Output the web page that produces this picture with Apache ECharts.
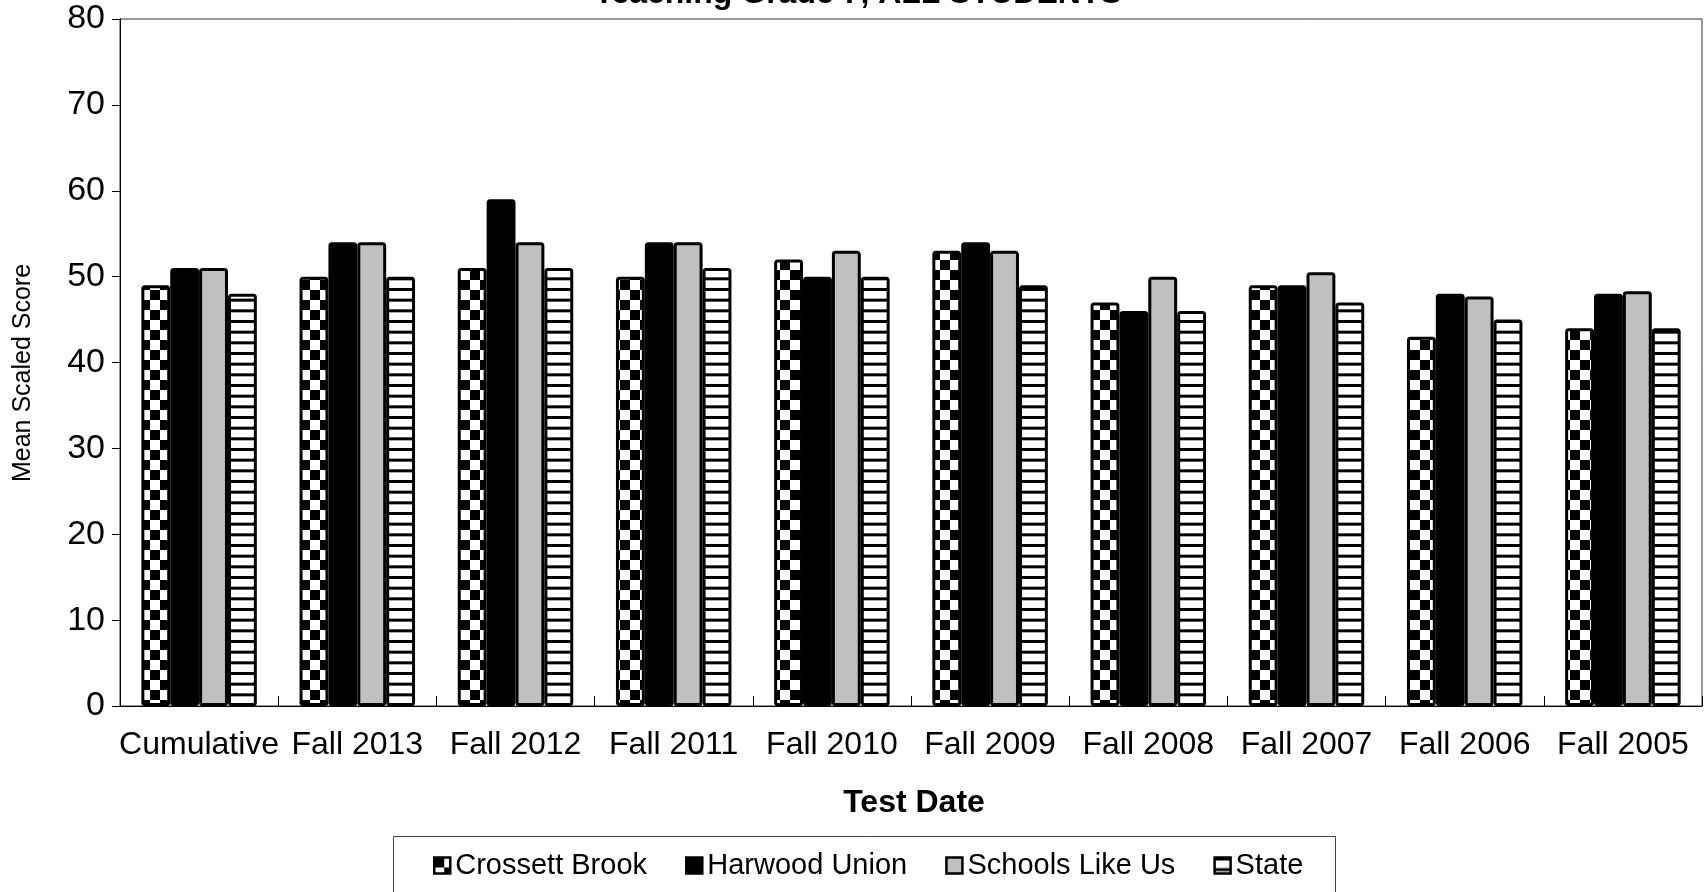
<!DOCTYPE html>
<html>
<head>
<meta charset="utf-8">
<script src="https://cdn.jsdelivr.net/npm/echarts@6/dist/echarts.min.js"></script>
<style>
html,body{margin:0;padding:0;background:#fff;}
#chart{width:1705px;height:892px;}
</style>
</head>
<body>
<div id="chart"></div>
<script>
const categories = ['Cumulative','Fall 2013','Fall 2012','Fall 2011','Fall 2010','Fall 2009','Fall 2008','Fall 2007','Fall 2006','Fall 2005'];
const crossettBrook = [49, 50, 51, 50, 52, 53, 47, 49, 43, 44];
const harwoodUnion  = [51, 54, 59, 54, 50, 54, 46, 49, 48, 48];
const schoolsLikeUs = [51, 54, 54, 54, 53, 53, 50, 50.5, 47.7, 48.3];
const stateAvg      = [48, 50, 51, 51, 50, 49, 46, 47, 45, 44];
const seriesNames = ['Crossett Brook','Harwood Union','Schools Like Us','State'];
const titleText = 'Teaching Grade 7, ALL STUDENTS';
const xAxisTitle = 'Test Date';
const yAxisTitle = 'Mean Scaled Score';

function checkerPattern() {
  const c = document.createElement('canvas');
  c.width = 20; c.height = 20;
  const g = c.getContext('2d');
  g.fillStyle = '#fff'; g.fillRect(0,0,20,20);
  g.fillStyle = '#000';
  g.fillRect(0,0,10,10); g.fillRect(10,10,10,10);
  return {image: c, repeat: 'repeat'};
}
function stripePattern() {
  const c = document.createElement('canvas');
  c.width = 8; c.height = 32;
  const g = c.getContext('2d');
  g.fillStyle = '#fff'; g.fillRect(0,0,8,32);
  g.fillStyle = '#000';
  g.fillRect(0,0,8,3); g.fillRect(0,10.67,8,3); g.fillRect(0,21.33,8,3);
  return {image: c, repeat: 'repeat'};
}

const FONT = '"Liberation Sans", Arial, sans-serif';
const fills = [checkerPattern(), '#000000', '#c0c0c0', stripePattern()];
const values = [crossettBrook, harwoodUnion, schoolsLikeUs, stateAvg];

const chart = echarts.init(document.getElementById('chart'), null, {renderer: 'canvas'});
chart.setOption({
  animation: false,
  backgroundColor: '#fff',
  grid: {left: 120, right: 3, top: 19, bottom: 186, show: true, borderColor: '#333', borderWidth: 1, containLabel: false},
  xAxis: {
    type: 'category',
    data: categories,
    axisLine: {lineStyle: {color: '#000', width: 1}},
    axisTick: {show: true, inside: true, length: 10, lineStyle: {color: '#000'}},
    axisLabel: {color: '#000', fontSize: 32, fontFamily: FONT, margin: 23, interval: 0},
    splitLine: {show: false}
  },
  yAxis: {
    type: 'value', min: 0, max: 80, interval: 10,
    axisLine: {show: true, lineStyle: {color: '#000', width: 1}},
    axisTick: {show: true, length: 8, lineStyle: {color: '#000'}},
    axisLabel: {color: '#000', fontSize: 34, fontFamily: FONT, margin: 15},
    splitLine: {show: false}
  },
  legend: {
    left: 428, top: 846, padding: 5,
    itemWidth: 16, itemHeight: 16, itemGap: 38,
    icon: 'rect',
    data: seriesNames,
    textStyle: {color: '#000', fontSize: 29, fontFamily: FONT},
    itemStyle: {borderColor: '#000', borderWidth: 2.5}
  },
  graphic: [
    {type: 'rect', shape: {x: 393.5, y: 836.5, width: 942, height: 80}, style: {fill: 'none', stroke: '#444', lineWidth: 1}, silent: true, z: -1},
    {type: 'text', x: 858, y: -6, style: {text: titleText, font: 'bold 32px ' + FONT, fill: '#000', align: 'center', verticalAlign: 'middle'}},
    {type: 'text', x: 914, y: 803, style: {text: xAxisTitle, font: 'bold 32px ' + FONT, fill: '#000', align: 'center', verticalAlign: 'middle'}},
    {type: 'text', x: 23, y: 373, rotation: Math.PI/2, style: {text: yAxisTitle, font: '25px ' + FONT, fill: '#000', align: 'center', verticalAlign: 'middle'}}
  ],
  series: seriesNames.map((name, i) => ({
    name: name,
    type: 'bar',
    data: values[i],
    barGap: '0%',
    barCategoryGap: '27%',
    itemStyle: {color: fills[i], borderColor: '#000', borderWidth: 3, borderRadius: 2}
  }))
});
</script>
</body>
</html>
